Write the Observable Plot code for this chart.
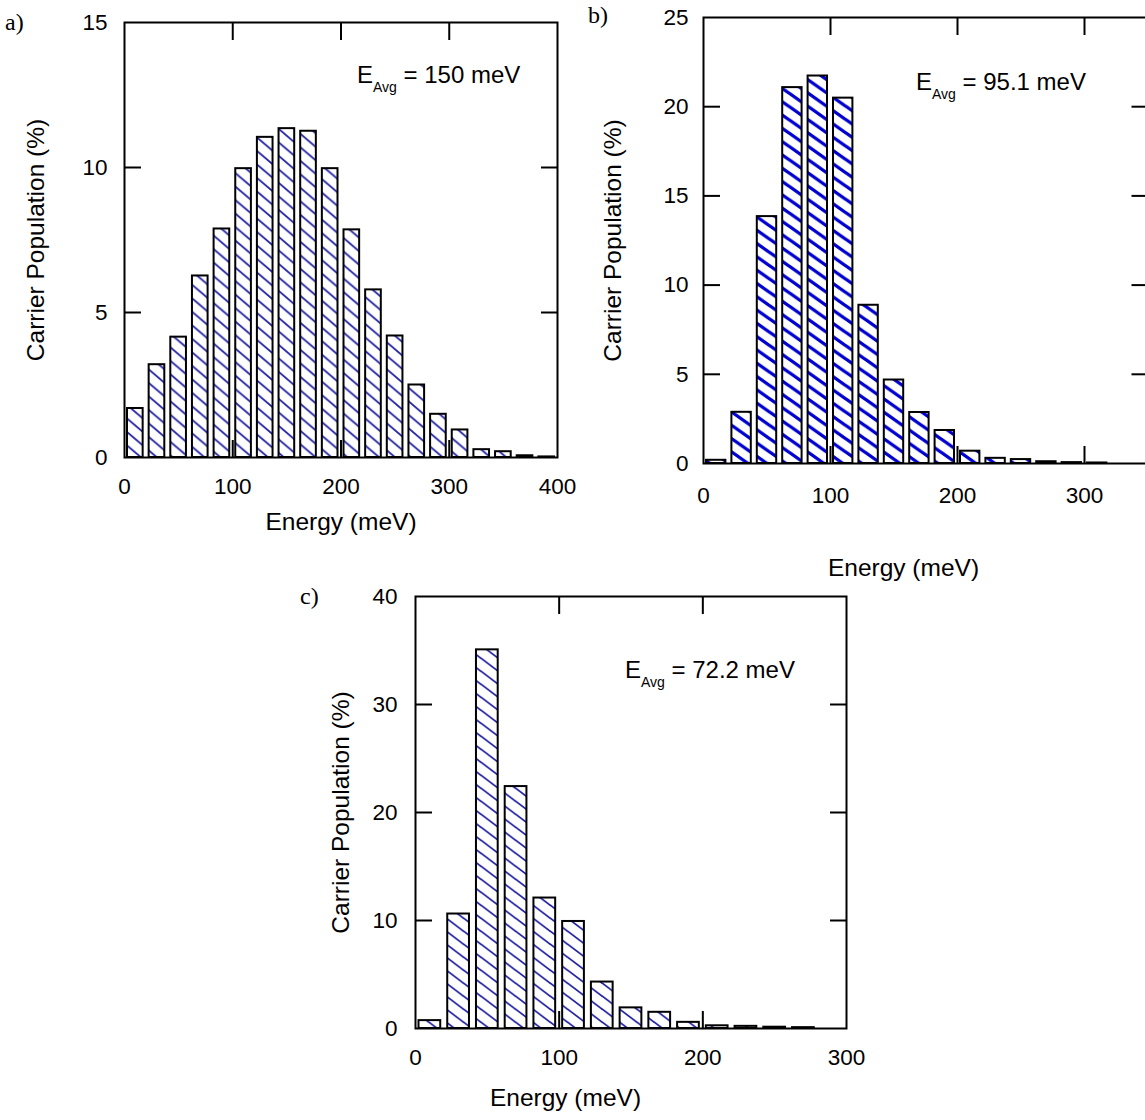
<!DOCTYPE html>
<html><head><meta charset="utf-8">
<script src="https://cdn.jsdelivr.net/npm/d3@7"></script>
<script src="https://cdn.jsdelivr.net/npm/@observablehq/plot@0.6"></script>
<style>
html,body{margin:0;padding:0;background:#fff;overflow:hidden}
#wrap{position:relative;width:1145px;height:1120px;overflow:hidden;background:#fff}
.panel{position:absolute}
.letter{position:absolute;font-family:"Liberation Serif","Times New Roman",serif;font-size:24px;line-height:24px}
.ann{position:absolute;font-family:"Liberation Sans",Arial,sans-serif;font-size:24px;line-height:24px;white-space:nowrap}
.ann .sub{font-size:14px;position:relative;top:9px}
</style></head><body><div id="wrap"></div>
<script>
// ---- data (bin start energies in meV, carrier population in %) ----
const binsA = [0,20,40,60,80,100,120,140,160,180,200,220,240,260,280,300,320,340,360,380];
const popA  = [1.69,3.2,4.15,6.26,7.88,9.96,11.04,11.34,11.25,9.96,7.85,5.78,4.19,2.5,1.49,0.95,0.27,0.2,0.06,0.02];
const binsB = [0,20,40,60,80,100,120,140,160,180,200,220,240,260,280,300];
const popB  = [0.18,2.87,13.84,21.07,21.72,20.48,8.87,4.68,2.86,1.85,0.69,0.29,0.22,0.1,0.05,0.03];
const binsC = [0,20,40,60,80,100,120,140,160,180,200,220,240,260];
const popC  = [0.73,10.6,35.06,22.4,12.08,9.91,4.3,1.91,1.5,0.57,0.25,0.2,0.12,0.08];
const binWidth = 20;
const xTickLabelsA = [0,100,200,300,400], yTickLabelsA = [0,5,10,15];
const xTickLabelsB = [0,100,200,300],     yTickLabelsB = [0,5,10,15,20,25];
const xTickLabelsC = [0,100,200,300],     yTickLabelsC = [0,10,20,30,40];
const xInnerA = [100,200,300], yInnerA = [5,10];
const xInnerB = [100,200,300], yInnerB = [5,10,15,20];
const xInnerC = [100,200],     yInnerC = [10,20,30];
const xTitle = "Energy (meV)", yTitle = "Carrier Population (%)";
const avgA = "150 meV", avgB = "95.1 meV", avgC = "72.2 meV";

const FONT = '"Liberation Sans", Arial, sans-serif';
const wrap = document.getElementById("wrap");

function panel(cfg) {
  const data = cfg.bins.map((b, i) => ({e0: b, e1: b + binWidth, p: cfg.pop[i]}));
  const tl = 17;
  const fmt = () => "";
  const svg = Plot.plot({
    width: cfg.width, height: cfg.height,
    marginLeft: cfg.m[0], marginRight: cfg.m[1], marginTop: cfg.m[2], marginBottom: cfg.m[3],
    style: {fontFamily: FONT, fontSize: "22.5px", color: "black", background: "transparent", overflow: "visible"},
    x: {domain: cfg.xDomain, label: null},
    y: {domain: cfg.yDomain, label: null},
    marks: [
      Plot.axisX(cfg.xInner, {anchor: "bottom", tickSize: tl, dy: -tl, tickFormat: fmt, strokeWidth: 2, label: null}),
      Plot.rectY(data, {x1: "e0", x2: "e1", y1: 0, y2: "p", fill: `url(#${cfg.id})`, stroke: "black", strokeWidth: 2, insetLeft: cfg.inset, insetRight: cfg.inset}),
      Plot.axisX(cfg.xInner, {anchor: "top", tickSize: tl, dy: tl, tickFormat: fmt, strokeWidth: 2, label: null}),
      Plot.axisY(cfg.yInner, {anchor: "left", tickSize: tl, dx: tl, tickFormat: fmt, strokeWidth: 2, label: null}),
      Plot.axisY(cfg.yInner, {anchor: "right", tickSize: tl, dx: -tl, tickFormat: fmt, strokeWidth: 2, label: null}),
      Plot.axisX(cfg.xLabels, {anchor: "bottom", tickSize: 0, tickPadding: cfg.padX, label: null, fontSize: 22.5}),
      Plot.axisY(cfg.yLabels, {anchor: "left", tickSize: 0, tickPadding: cfg.padY, label: null, fontSize: 22.5}),
      Plot.frame({stroke: "black", strokeWidth: 2}),
      Plot.text([xTitle], {frameAnchor: "bottom-left", dx: cfg.xt[0], dy: cfg.xt[1], textAnchor: "middle", fontSize: 24.5, fill: "black"}),
      Plot.text([yTitle], {frameAnchor: "left", dx: cfg.yt, rotate: -90, textAnchor: "middle", fontSize: 24.5, fill: "black"})
    ]
  });
  // hatch pattern
  const h = cfg.hatch, W = h.H / h.slope, H = h.H;
  const pat = d3.select(svg).insert("defs", ":first-child")
    .append("pattern").attr("id", cfg.id).attr("patternUnits", "userSpaceOnUse")
    .attr("width", W).attr("height", H);
  pat.append("rect").attr("width", W).attr("height", H).attr("fill", "white");
  pat.append("path")
    .attr("d", `M0,0L${W},${H}M${-W},0L${W},${2*H}M0,${-H}L${2*W},${H}`)
    .attr("stroke", h.color).attr("stroke-width", h.lw).attr("fill", "none");
  svg.classList.add("panel");
  svg.style.left = cfg.left + "px";
  svg.style.top = cfg.top + "px";
  wrap.appendChild(svg);
}

panel({id: "hatchA", bins: binsA, pop: popA, xDomain: [0,400], yDomain: [0,15],
  xLabels: xTickLabelsA, yLabels: yTickLabelsA, xInner: xInnerA, yInner: yInnerA,
  left: 0, top: 0, width: 580, height: 560, m: [124, 23, 22, 103],
  inset: 3, padX: 21, padY: 17, xt: [216.5, 72], yt: -88,
  hatch: {H: 13.5, slope: 0.85, color: "#2424a4", lw: 1.8}});

panel({id: "hatchB", bins: binsB, pop: popB, xDomain: [0,350], yDomain: [0,25],
  xLabels: xTickLabelsB, yLabels: yTickLabelsB, xInner: xInnerB, yInner: yInnerB,
  left: 580, top: 0, width: 580, height: 600, m: [123, 12.5, 17, 137],
  inset: 3, padX: 24, padY: 15, xt: [200, 112], yt: -90,
  hatch: {H: 13.3, slope: 0.7, color: "#0000d0", lw: 3.3}});

panel({id: "hatchC", bins: binsC, pop: popC, xDomain: [0,300], yDomain: [0,40],
  xLabels: xTickLabelsC, yLabels: yTickLabelsC, xInner: xInnerC, yInner: yInnerC,
  left: 290, top: 580, width: 580, height: 540, m: [125, 24, 16, 92],
  inset: 3.5, padX: 21, padY: 18, xt: [150, 77], yt: -74,
  hatch: {H: 13, slope: 0.75, color: "#2424a4", lw: 1.8}});

function addDiv(cls, html, left, top) {
  const d = document.createElement("div");
  d.className = cls; d.innerHTML = html;
  d.style.left = left + "px"; d.style.top = top + "px";
  wrap.appendChild(d);
}
addDiv("letter", "a)", 5, 10);
addDiv("letter", "b)", 588, 3);
addDiv("letter", "c)", 300, 584);
addDiv("ann", `E<span class="sub">Avg</span> = ${avgA}`, 357, 63);
addDiv("ann", `E<span class="sub">Avg</span> = ${avgB}`, 916, 70);
addDiv("ann", `E<span class="sub">Avg</span> = ${avgC}`, 625, 658);
</script></body></html>
